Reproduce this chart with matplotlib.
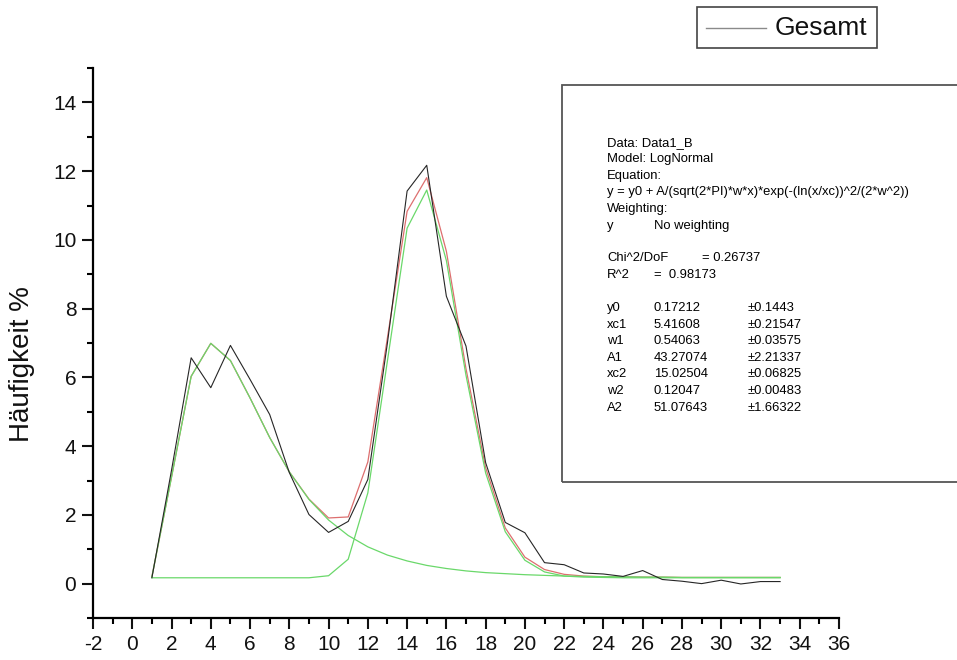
import matplotlib.pyplot as plt
from matplotlib.lines import Line2D
from matplotlib.patches import Rectangle

plt.rcParams['font.family'] = ['Liberation Sans', 'DejaVu Sans']
plt.rcParams['axes.unicode_minus'] = False

W, H = 957, 660

# size classes
x = list(range(1, 34))

# measured distribution
gesamt = [0.17, 3.30, 6.57, 5.70, 6.93, 5.94, 4.92, 3.23, 2.01, 1.49, 1.81,
          3.03, 7.01, 11.42, 12.17, 8.36, 6.91, 3.52, 1.78, 1.48, 0.61, 0.55,
          0.31, 0.28, 0.21, 0.38, 0.12, 0.07, 0.00, 0.10, -0.01, 0.06, 0.06]

# cumulative lognormal fit
fit_sum = [0.20, 3.10, 6.03, 6.99, 6.49, 5.40, 4.25, 3.25, 2.46, 1.91, 1.94,
           3.54, 7.16, 10.83, 11.81, 9.67, 6.25, 3.37, 1.62, 0.77, 0.41, 0.27,
           0.22, 0.20, 0.20, 0.19, 0.19, 0.18, 0.18, 0.18, 0.18, 0.18, 0.18]

# single peaks
peak1 = [0.20, 3.10, 6.03, 6.99, 6.49, 5.40, 4.25, 3.25, 2.45, 1.85, 1.40,
         1.07, 0.83, 0.66, 0.53, 0.44, 0.37, 0.32, 0.29, 0.26, 0.24, 0.22,
         0.21, 0.20, 0.20, 0.19, 0.19, 0.18, 0.18, 0.18, 0.18, 0.18, 0.18]
peak2 = [0.17, 0.17, 0.17, 0.17, 0.17, 0.17, 0.17, 0.17, 0.17, 0.23, 0.71,
         2.64, 6.49, 10.34, 11.45, 9.40, 6.06, 3.22, 1.51, 0.68, 0.34, 0.22,
         0.19, 0.18, 0.17, 0.17, 0.17, 0.17, 0.17, 0.17, 0.17, 0.17, 0.17]

fit_lines = [
    ("Data: Data1_B", 143),
    ("Model: LogNormal", 159),
    ("Equation:", 176),
    ("y = y0 + A/(sqrt(2*PI)*w*x)*exp(-(ln(x/xc))^2/(2*w^2))", 192),
    ("Weighting:", 209),
]
param_names = ["y0", "xc1", "w1", "A1", "xc2", "w2", "A2"]
param_values = ["0.17212", "5.41608", "0.54063", "43.27074", "15.02504",
                "0.12047", "51.07643"]
param_errors = ["\u00b10.1443", "\u00b10.21547", "\u00b10.03575", "\u00b12.21337",
                "\u00b10.06825", "\u00b10.00483", "\u00b11.66322"]


def fx(px):
    return px / W


def fy(py):
    return 1 - py / H


fig = plt.figure(figsize=(W / 100, H / 100), dpi=100)
ax = fig.add_axes([fx(93), fy(618), (839 - 93) / W, (618 - 68) / H])

green = '#6ad86a'
ax.plot(x, fit_sum, color='#dd6f6f', lw=0.9)
ax.plot(x, peak1, color=green, lw=0.9)
ax.plot(x, peak2, color=green, lw=0.9)
ax.plot(x, gesamt, color='#262626', lw=0.8)

ax.set_xlim(-2, 36)
ax.set_ylim(-1, 15)
ax.set_xticks(range(-2, 37, 2))
ax.set_xticks(range(-1, 36, 2), minor=True)
ax.set_yticks(range(0, 15, 2))
ax.set_yticks(range(-1, 16, 2), minor=True)
for side in ['top', 'right']:
    ax.spines[side].set_visible(False)
for side in ['left', 'bottom']:
    ax.spines[side].set_linewidth(1.6)
ax.tick_params(which='major', length=8, width=1.5, labelsize=15, pad=4,
               colors='#111111')
ax.tick_params(which='minor', length=4.5, width=1.5)

fig.text(fx(22), fy(364), 'Häufigkeit %', rotation=90, size=20,
         ha='center', va='center', color='#111111')

# legend box
fig.add_artist(Rectangle((fx(697), fy(48)), (877 - 697) / W, (48 - 7) / H,
                         transform=fig.transFigure, fill=False,
                         edgecolor='#444444', lw=1.2))
fig.add_artist(Line2D([fx(706), fx(766)], [fy(28), fy(28)],
                      transform=fig.transFigure, color='#8a8a8a', lw=1))
fig.text(fx(775), fy(28), 'Gesamt', size=19, ha='left', va='center',
         color='#111111')

# fit result box
fig.add_artist(Rectangle((fx(562), fy(482)), (970 - 562) / W, (482 - 85) / H,
                         transform=fig.transFigure, fill=False,
                         edgecolor='#555555', lw=1.3))
fs = 9.4
for txt, py in fit_lines:
    fig.text(fx(607), fy(py), txt, size=fs, va='center')
fig.text(fx(607), fy(226), 'y', size=fs, va='center')
fig.text(fx(654), fy(226), 'No weighting', size=fs, va='center')
fig.text(fx(607), fy(258), 'Chi^2/DoF', size=fs, va='center')
fig.text(fx(702), fy(258), '= 0.26737', size=fs, va='center')
fig.text(fx(607), fy(275), 'R^2', size=fs, va='center')
fig.text(fx(654), fy(275), '=  0.98173', size=fs, va='center')
for i, name in enumerate(param_names):
    py = 308 + i * 16.6
    fig.text(fx(607), fy(py), name, size=fs, va='center')
    fig.text(fx(654), fy(py), param_values[i], size=fs, va='center')
    fig.text(fx(748), fy(py), param_errors[i], size=fs, va='center')

fig.savefig('out.png', dpi=100)
